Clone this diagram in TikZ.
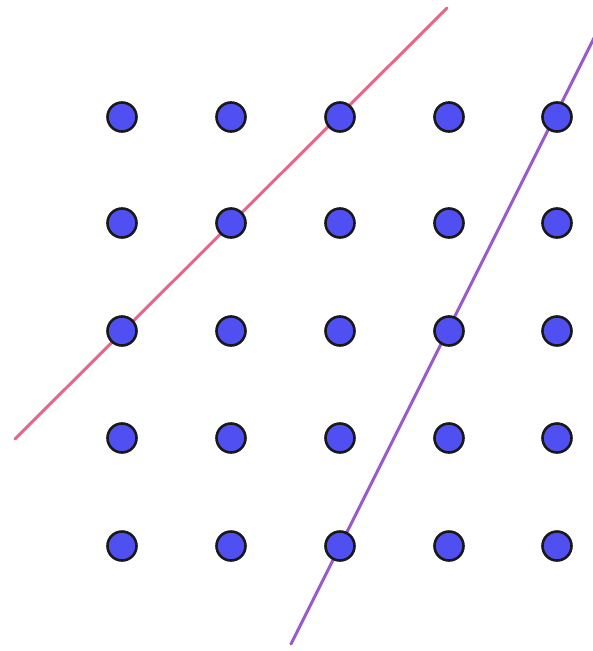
\documentclass[tikz,border=0pt]{standalone}
\definecolor{dotblue}{HTML}{5050F2}
\definecolor{redline}{HTML}{E8668A}
\definecolor{purpleline}{HTML}{9A5CCB}
\begin{document}
\begin{tikzpicture}[x=1pt,y=-1pt,
  dot/.style={circle,draw=black!90,line width=2.6pt,fill=dotblue,minimum size=29pt,inner sep=0pt},
  latline/.style={line width=3pt,line cap=round}]
\useasboundingbox (0,0) rectangle (593,651);
\clip (0,0) rectangle (593,651);
\coordinate (r1) at (15,439);
\coordinate (r2) at (447,8);
\coordinate (p1) at (291,644);
\coordinate (p2) at (600,26);
\draw[latline,redline] (r1) -- (r2);
\draw[latline,purpleline] (p1) -- (p2);
\foreach \i/\x in {1/122,2/231,3/340,4/449,5/557}{
  \foreach \j/\y in {1/117,2/223,3/331,4/438,5/546}{
    \node[dot] (d\i\j) at (\x,\y) {};
  }
}
\end{tikzpicture}
\end{document}
